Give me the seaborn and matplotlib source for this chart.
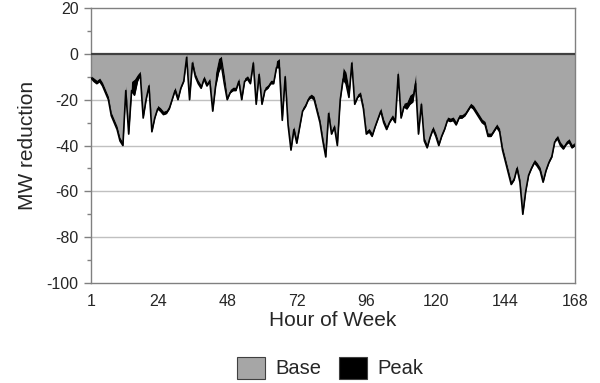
import matplotlib
matplotlib.use("Agg")
import matplotlib.pyplot as plt
from matplotlib.patches import Patch
from matplotlib.ticker import MultipleLocator
import numpy as np
import pandas as pd
import seaborn as sns

# Hourly demand reduction over one week (MW, negative = reduction)
hours = list(range(1, 169))

base = [
    -9.5, -10.5, -11.5, -10.5, -12.5, -15.5, -18.5, -25.5, -28.5, -31.5,
    -36.5, -38.5, -14.0, -33.0, -12.0, -11.0, -9.0, -7.5, -26.5, -18.5,
    -12.5, -32.5, -26.5, -22.5, -23.5, -25.0, -24.5, -22.5, -18.5, -14.5,
    -18.5, -13.5, -10.5, 0.0, -18.5, -2.5, -8.5, -11.5, -13.5, -9.5,
    -12.5, -10.5, -23.0, -8.0, -2.0, -1.0, -9.0, -18.5, -15.5, -14.5,
    -14.5, -10.5, -18.5, -10.5, -9.5, -11.5, -2.5, -20.5, -7.5, -20.5,
    -14.5, -13.5, -11.5, -11.5, -3.0, -2.0, -27.5, -8.5, -29.5, -40.5,
    -31.5, -37.5, -30.5, -23.5, -21.5, -18.5, -17.5, -18.5, -23.5, -28.5,
    -36.5, -43.5, -24.5, -33.5, -30.5, -38.5, -17.0, -6.0, -8.0, -15.0,
    -2.5, -20.5, -17.5, -16.5, -22.5, -33.5, -32.5, -34.5, -30.5, -27.0,
    -23.5, -28.5, -31.5, -28.5, -26.5, -28.5, -7.0, -26.5, -21.5, -21.0,
    -18.0, -17.0, -9.0, -33.5, -20.5, -36.5, -39.5, -35.0, -31.5, -34.5,
    -38.5, -34.5, -31.5, -27.5, -28.0, -27.5, -29.5, -26.5, -26.5, -25.5,
    -23.5, -21.5, -22.5, -24.5, -26.5, -28.5, -29.5, -34.5, -34.5, -32.5,
    -30.5, -32.5, -40.5, -45.5, -50.5, -55.5, -53.5, -48.5, -54.5, -68.0,
    -58.5, -51.5, -48.5, -46.0, -47.5, -49.5, -54.5, -49.5, -46.0, -43.5,
    -37.0, -35.5, -38.5, -40.0, -38.0, -37.0, -39.5, -38.5,
]

peak = [
    -1.0, -1.5, -1.5, -1.5, -1.5, -1.5, -1.5, -1.5, -1.5, -1.5,
    -1.5, -1.5, -2.0, -2.0, -4.0, -7.0, -3.0, -1.5, -1.5, -1.5,
    -1.5, -1.5, -1.5, -1.5, -1.5, -1.5, -1.5, -1.5, -1.5, -1.5,
    -1.5, -1.5, -1.5, -1.5, -1.5, -1.5, -1.5, -1.5, -1.5, -1.5,
    -1.5, -1.5, -2.0, -6.0, -6.0, -4.0, -4.0, -1.5, -1.5, -1.5,
    -1.5, -1.5, -1.5, -1.5, -1.5, -1.5, -1.5, -1.5, -1.5, -1.5,
    -1.5, -1.5, -1.5, -1.5, -3.0, -4.0, -1.5, -1.5, -1.5, -1.5,
    -1.5, -1.5, -1.5, -1.5, -1.5, -1.5, -1.5, -1.5, -1.5, -1.5,
    -1.5, -1.5, -1.5, -1.5, -1.5, -1.5, -3.0, -5.0, -5.0, -4.0,
    -1.5, -1.5, -1.5, -1.5, -1.5, -1.5, -1.5, -1.5, -1.5, -1.5,
    -1.5, -1.5, -1.5, -1.5, -1.5, -1.5, -2.0, -1.5, -1.5, -3.0,
    -4.0, -4.0, -4.0, -1.5, -1.5, -1.5, -1.5, -1.5, -1.5, -1.5,
    -1.5, -1.5, -1.5, -1.5, -1.5, -1.5, -1.5, -1.5, -1.5, -1.5,
    -1.5, -1.5, -1.5, -1.5, -1.5, -1.5, -1.5, -1.5, -1.5, -1.5,
    -1.5, -1.5, -1.5, -1.5, -1.5, -1.5, -1.5, -1.5, -1.5, -2.0,
    -1.5, -1.5, -1.5, -1.5, -1.5, -1.5, -1.5, -1.5, -1.5, -1.5,
    -1.5, -1.5, -1.5, -1.5, -1.5, -1.5, -1.5, -1.5,
]

series_names = ["Base", "Peak"]
series_colors = ["#a6a6a6", "#000000"]
x_ticks = [1, 24, 48, 72, 96, 120, 144, 168]

df = pd.DataFrame({"hour": hours, "Base": base, "Peak": peak})

sns.set_theme(style="white")
plt.rcParams["font.family"] = ["Liberation Sans", "DejaVu Sans"]
plt.rcParams["axes.unicode_minus"] = False

fig = plt.figure(figsize=(6.0, 3.83), dpi=100)
ax = fig.add_axes([0.1517, 0.261, 0.8066, 0.718])

# stacked areas: base from zero, peak stacked beneath it
ax.stackplot(df["hour"], df["Base"], df["Peak"], colors=series_colors,
             linewidth=0, zorder=2)
sns.lineplot(x=df["hour"], y=df["Base"] + df["Peak"], ax=ax, color="black",
             linewidth=1.2, zorder=3)
ax.axhline(0, color="#404040", linewidth=1.6, zorder=4)

ax.set_xlim(1, 168)
ax.set_ylim(-100, 20)
ax.set_xticks(x_ticks)
ax.set_xticklabels([str(t) for t in x_ticks])
ax.yaxis.set_major_locator(MultipleLocator(20))
ax.yaxis.set_minor_locator(MultipleLocator(10))
ax.tick_params(axis="y", which="major", direction="out", length=5, width=1,
               color="#808080", labelsize=11.5, pad=4, left=True)
ax.tick_params(axis="y", which="minor", direction="out", length=3, width=1,
               color="#808080", left=True)
ax.tick_params(axis="x", length=0, labelsize=11.5, pad=8)

for y in (-20, -40, -60, -80):
    ax.axhline(y, color="#c0c0c0", linewidth=1.0, zorder=1)

for side in ("left", "right", "top", "bottom"):
    ax.spines[side].set_visible(True)
    ax.spines[side].set_color("#808080")
    ax.spines[side].set_linewidth(1.0)
ax.spines["bottom"].set_zorder(5)

ax.set_xlabel("Hour of Week", fontsize=15, labelpad=1)
ax.set_ylabel("MW reduction", fontsize=15, labelpad=7)
ax.grid(False)

handles = [Patch(facecolor=c, edgecolor="#404040", linewidth=0.8)
           for c in series_colors]
fig.legend(handles, series_names, loc="center", bbox_to_anchor=(0.55, 0.04),
           ncol=2, frameon=False, fontsize=14.5, handlelength=1.4,
           handleheight=1.3, handletextpad=0.5, columnspacing=0.9)

fig.savefig("out.png", dpi=100)
